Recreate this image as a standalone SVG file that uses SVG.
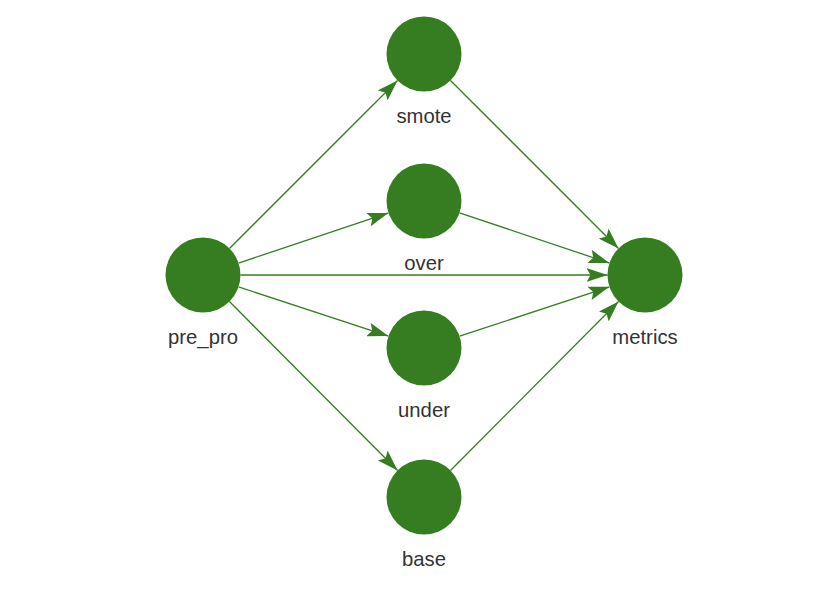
<svg xmlns="http://www.w3.org/2000/svg" width="838" height="596" viewBox="0 0 838 596">
<style>
.node circle{fill:#367d21;}
.node text{font-family:"Liberation Sans",Arial,sans-serif;font-size:20.3px;fill:#333333;text-anchor:middle;}
.edges line{stroke:#367d21;stroke-width:1.3;marker-end:url(#arr);}
</style>
<defs>
<marker id="arr" markerUnits="userSpaceOnUse" markerWidth="21" markerHeight="14" refX="21" refY="7" orient="auto" viewBox="0 0 21 14">
<path d="M0,0 L21,7 L0,14 L4,7 z" fill="#367d21"/>
</marker>
</defs>
<rect width="838" height="596" fill="#ffffff"/>
<g class="edges" id="edges">
<line x1="229.5" y1="248.5" x2="397.5" y2="80.5"/>
<line x1="238.56" y1="263.09" x2="388.44" y2="212.91"/>
<line x1="240.5" y1="275" x2="607.5" y2="275"/>
<line x1="238.56" y1="286.91" x2="388.44" y2="336.09"/>
<line x1="229.46" y1="301.58" x2="397.54" y2="470.42"/>
<line x1="450.5" y1="80.5" x2="618.5" y2="248.5"/>
<line x1="459.56" y1="212.91" x2="609.44" y2="263.09"/>
<line x1="459.61" y1="336.24" x2="609.39" y2="286.76"/>
<line x1="450.46" y1="470.42" x2="618.54" y2="301.58"/>
</g>
<g class="node" id="pre_pro"><circle cx="203" cy="275" r="37.5"/><text x="203" y="344">pre_pro</text></g>
<g class="node" id="smote"><circle cx="424" cy="54" r="37.5"/><text x="424" y="123">smote</text></g>
<g class="node" id="over"><circle cx="424" cy="201" r="37.5"/><text x="424" y="270">over</text></g>
<g class="node" id="under"><circle cx="424" cy="348" r="37.5"/><text x="424" y="417">under</text></g>
<g class="node" id="base"><circle cx="424" cy="497" r="37.5"/><text x="424" y="566">base</text></g>
<g class="node" id="metrics"><circle cx="645" cy="275" r="37.5"/><text x="645" y="344">metrics</text></g>
</svg>
